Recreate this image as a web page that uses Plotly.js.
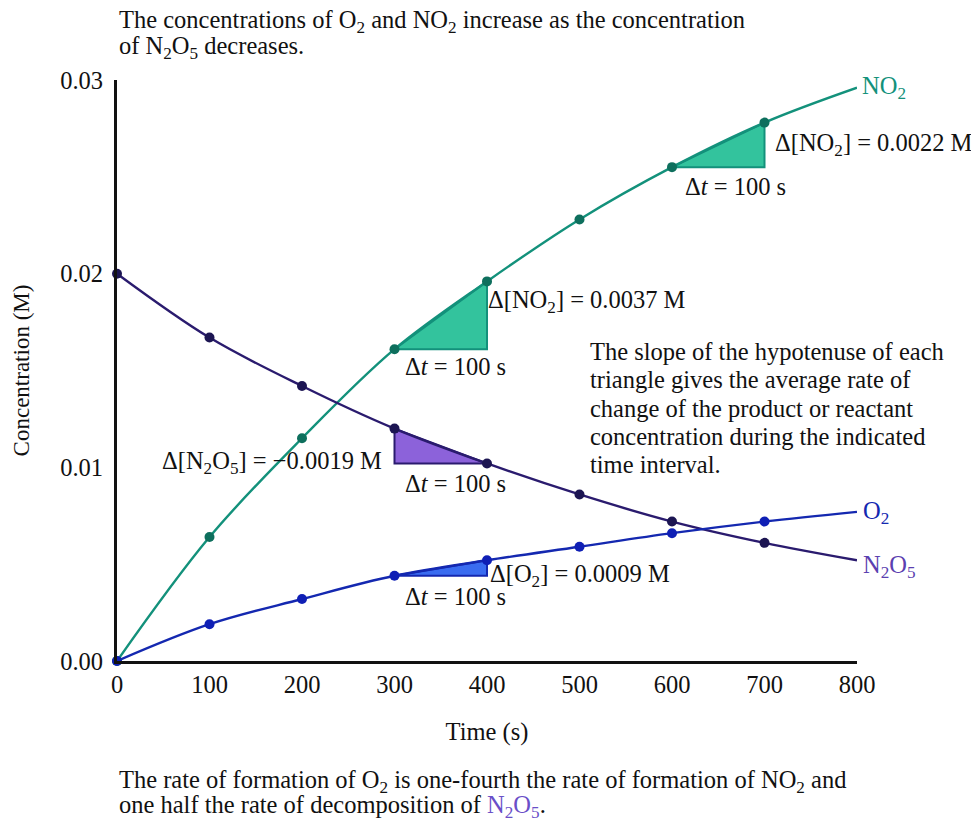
<!DOCTYPE html>
<html>
<head>
<meta charset="utf-8">
<script src="https://cdn.plot.ly/plotly-3.0.1.min.js"></script>
<style>html,body{margin:0;padding:0;background:#fff;}#chart{width:971px;height:821px;}</style>
</head>
<body>
<div id="chart"></div>
<script>
// Time points (s)
var timeMarked = [0, 100, 200, 300, 400, 500, 600, 700];
var timeCurve  = [0, 100, 200, 300, 400, 500, 600, 700, 800];
// Concentrations (M)
var no2  = [0.0000, 0.0064, 0.0115, 0.0161, 0.0196, 0.0228, 0.0255, 0.0278, 0.0296];
var n2o5 = [0.0200, 0.0167, 0.0142, 0.0120, 0.0102, 0.0086, 0.0072, 0.0061, 0.0052];
var o2   = [0.0000, 0.0019, 0.0032, 0.0044, 0.0052, 0.0059, 0.0066, 0.0072, 0.0077];
var yTicks = [0, 0.01, 0.02, 0.03];
var yTickLabels = ["0.00", "0.01", "0.02", "0.03"];
var xTicks = [0, 100, 200, 300, 400, 500, 600, 700, 800];

var FONT = "Liberation Serif, Times New Roman, serif";
var FS = 24.5;
var C_NO2 = "#13917b", C_NO2_M = "#0e6f5d", C_NO2_F = "#33c39d";
var C_N2O5 = "#2a1b6e", C_N2O5_M = "#1c1552", C_N2O5_F = "#8c62da";
var C_O2 = "#1428b0", C_O2_M = "#0f1fb5", C_O2_F = "#3a6cf0";

function tri(xs, ys, fill, line) {
  return {x: xs, y: ys, mode: "lines", fill: "toself", fillcolor: fill,
          line: {color: line, width: 2}, hoverinfo: "skip", showlegend: false, cliponaxis: false};
}
var i3 = 3, i4 = 4, i6 = 6, i7 = 7;
var traces = [
  tri([timeMarked[i6], timeMarked[i7], timeMarked[i7], timeMarked[i6]], [no2[i6], no2[i7], no2[i6], no2[i6]], C_NO2_F, C_NO2),
  tri([timeMarked[i3], timeMarked[i4], timeMarked[i4], timeMarked[i3]], [no2[i3], no2[i4], no2[i3], no2[i3]], C_NO2_F, C_NO2),
  tri([timeMarked[i3], timeMarked[i4], timeMarked[i3], timeMarked[i3]], [n2o5[i3], n2o5[i4], n2o5[i4], n2o5[i3]], C_N2O5_F, C_N2O5),
  tri([timeMarked[i3], timeMarked[i4], timeMarked[i4], timeMarked[i3]], [o2[i3], o2[i4], o2[i3], o2[i3]], C_O2_F, C_O2),
  {x: timeCurve, y: no2, mode: "lines", line: {color: C_NO2, width: 2.4, shape: "spline"}, showlegend: false, cliponaxis: false, name: "NO2"},
  {x: timeCurve, y: n2o5, mode: "lines", line: {color: C_N2O5, width: 2.4, shape: "spline"}, showlegend: false, cliponaxis: false, name: "N2O5"},
  {x: timeCurve, y: o2, mode: "lines", line: {color: C_O2, width: 2.4, shape: "spline"}, showlegend: false, cliponaxis: false, name: "O2"},
  {x: timeMarked, y: no2.slice(0, 8), mode: "markers", marker: {color: C_NO2_M, size: 10}, showlegend: false, cliponaxis: false},
  {x: timeMarked, y: n2o5.slice(0, 8), mode: "markers", marker: {color: C_N2O5_M, size: 10}, showlegend: false, cliponaxis: false},
  {x: timeMarked, y: o2.slice(0, 8), mode: "markers", marker: {color: C_O2_M, size: 10}, showlegend: false, cliponaxis: false}
];

function lab(x, y, text, color, extra) {
  var a = {x: x, y: y, xref: "x", yref: "y", text: text, showarrow: false,
           xanchor: "left", yanchor: "middle", align: "left",
           font: {family: FONT, size: FS, color: color || "#111"}};
  if (extra) for (var k in extra) a[k] = extra[k];
  return a;
}
function plab(x, y, text, color, size) {
  return lab(x, y, text, color, {xref: "paper", yref: "paper", font: {family: FONT, size: size || FS, color: color || "#111"}});
}
var DT = "\u0394<i>t</i> = 100 s";
var paragraph = ["The slope of the hypotenuse of each", "triangle gives the average rate of",
                 "change of the product or reactant", "concentration during the indicated", "time interval."];
var paraY = [0.01597, 0.01452, 0.01302, 0.01158, 0.01013];
var annotations = [
  lab(1.004, 0.0296, "NO<sub>2</sub>", C_NO2, {xref: "paper"}),
  lab(1.006, 0.00765, "O<sub>2</sub>", C_O2, {xref: "paper"}),
  lab(1.006, 0.00490, "N<sub>2</sub>O<sub>5</sub>", "#5b3fb0", {xref: "paper"}),
  lab(709, 0.02667, "\u0394[NO<sub>2</sub>] = 0.0022 M"),
  lab(612, 0.0245, DT),
  lab(399, 0.01855, "\u0394[NO<sub>2</sub>] = 0.0037 M"),
  lab(309, 0.0152, DT),
  lab(46, 0.01023, "\u0394[N<sub>2</sub>O<sub>5</sub>] = \u22120.0019 M"),
  lab(309, 0.00915, DT),
  lab(401, 0.00439, "\u0394[O<sub>2</sub>] = 0.0009 M"),
  lab(309, 0.00331, DT),
  plab(0, 1.1008, "The concentrations of O<sub>2</sub> and NO<sub>2</sub> increase as the concentration"),
  plab(0, 1.056, "of N<sub>2</sub>O<sub>5</sub> decreases."),
  plab(0, -0.2072, "The rate of formation of O<sub>2</sub> is one-fourth the rate of formation of NO<sub>2</sub> and", null, 24.5),
  plab(0, -0.2500, "one half the rate of decomposition of <span style=\"color:#6a4fc8\">N<sub>2</sub>O<sub>5</sub></span>.", null, 24.5)
];
for (var p = 0; p < paragraph.length; p++) annotations.push(lab(509, paraY[p], paragraph[p]));

var layout = {
  width: 971, height: 821,
  margin: {l: 117, r: 114, t: 80, b: 160},
  paper_bgcolor: "#fff", plot_bgcolor: "#fff",
  font: {family: FONT, size: FS, color: "#111"},
  xaxis: {range: [0, 800], tickvals: xTicks, ticks: "", showgrid: false, zeroline: false,
          showline: true, linecolor: "#111", linewidth: 3,
          tickfont: {family: FONT, size: FS, color: "#111"},
          title: {text: "Time (s)", standoff: 26, font: {family: FONT, size: FS, color: "#111"}}},
  yaxis: {range: [0, 0.03], tickvals: yTicks, ticktext: yTickLabels, ticks: "", showgrid: false, zeroline: false,
          showline: true, linecolor: "#111", linewidth: 3, ticklabelstandoff: 6,
          tickfont: {family: FONT, size: FS, color: "#111"},
          title: {text: "Concentration (M)", standoff: 25, font: {family: FONT, size: 23, color: "#111"}}},
  annotations: annotations,
  showlegend: false
};
Plotly.newPlot("chart", traces, layout, {displayModeBar: false, staticPlot: true});
</script>
</body>
</html>
